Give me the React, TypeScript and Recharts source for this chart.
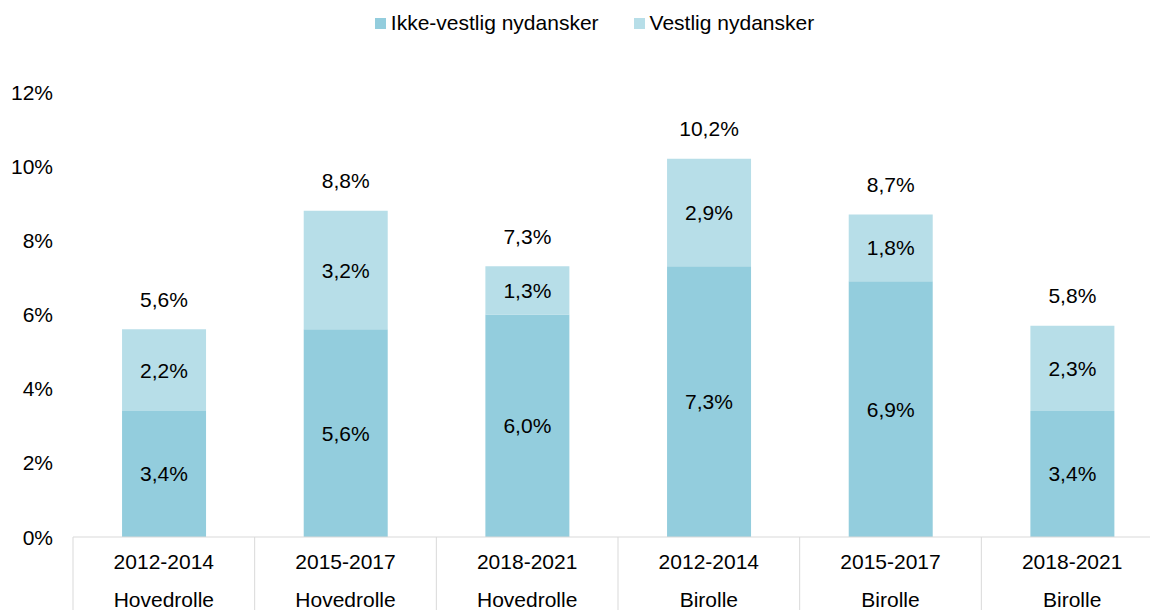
import { Bar, BarChart, LabelList, Legend, XAxis, YAxis } from "recharts";

const periods = ["2012-2014", "2015-2017", "2018-2021", "2012-2014", "2015-2017", "2018-2021"];
const roles = ["Hovedrolle", "Hovedrolle", "Hovedrolle", "Birolle", "Birolle", "Birolle"];
const ikkeVestlig = [3.4, 5.6, 6.0, 7.3, 6.9, 3.4];
const vestlig = [2.2, 3.2, 1.3, 2.9, 1.8, 2.3];
const totals = [5.6, 8.8, 7.3, 10.2, 8.7, 5.8];
const yTicks = [0, 2, 4, 6, 8, 10, 12];

const series = [
  { key: "ikke", name: "Ikke-vestlig nydansker", color: "#93cddd" },
  { key: "vestlig", name: "Vestlig nydansker", color: "#b7dee8" },
];

const data = periods.map((p, i) => ({
  name: `${p} ${roles[i]}`,
  period: p,
  role: roles[i],
  ikke: ikkeVestlig[i],
  vestlig: vestlig[i],
  total: totals[i],
}));

const FONT = "'Liberation Sans', Arial, sans-serif";
const fmt = (v: number) => v.toFixed(1).replace(".", ",") + "%";

function SegmentLabel(props: any) {
  const { x, y, width, height, value } = props;
  return (
    <text x={x + width / 2} y={y + height / 2 + 7.5} textAnchor="middle" fontSize={21} fontFamily={FONT} fill="#000">
      {fmt(value)}
    </text>
  );
}

function TotalLabel(props: any) {
  const { x, y, width, value } = props;
  return (
    <text x={x + width / 2} y={y - 30 + 7.5} textAnchor="middle" fontSize={21} fontFamily={FONT} fill="#000">
      {fmt(value)}
    </text>
  );
}

function YTick(props: any) {
  const { y, payload } = props;
  return (
    <text x={53} y={y + 7.5} textAnchor="end" fontSize={21} fontFamily={FONT} fill="#000">
      {payload.value}%
    </text>
  );
}

function XTick(props: any) {
  const { x, y, payload, index, width } = props;
  const band = width / periods.length;
  const row = data[index] ?? data.find((d) => d.name === payload.value);
  return (
    <g>
      <line x1={x - band / 2} x2={x - band / 2} y1={y} y2={y + 80} stroke="#d9d9d9" />
      <text x={x} y={y + 24 + 7.5} textAnchor="middle" fontSize={21} fontFamily={FONT} fill="#000">
        {row.period}
      </text>
      <text x={x} y={y + 62 + 7.5} textAnchor="middle" fontSize={21} fontFamily={FONT} fill="#000">
        {row.role}
      </text>
    </g>
  );
}

function LegendContent() {
  return (
    <div
      style={{
        width: 1150,
        boxSizing: "border-box",
        paddingLeft: 39,
        display: "flex",
        justifyContent: "center",
        alignItems: "center",
        fontFamily: FONT,
        fontSize: 21,
        color: "#000",
      }}
    >
      {series.map((s, i) => (
        <div key={s.key} style={{ display: "flex", alignItems: "center", marginLeft: i ? 35 : 0 }}>
          <span style={{ width: 11, height: 11, background: s.color, marginRight: 5, display: "inline-block" }} />
          <span>{s.name}</span>
        </div>
      ))}
    </div>
  );
}

export default function App() {
  return (
    <div style={{ position: "fixed", left: 0, top: 0, width: 1150, height: 610, overflow: "hidden", background: "#fff" }}>
      <BarChart
        width={1163}
        height={610}
        data={data}
        margin={{ top: 92, right: 0, bottom: 0, left: 0 }}
        barCategoryGap="27%"
      >
        <Legend
          verticalAlign="middle"
          content={<LegendContent />}
          wrapperStyle={{ top: 11, left: 0, width: 1150 }}
        />
        <YAxis
          width={73}
          domain={[0, 12]}
          ticks={yTicks}
          axisLine={false}
          tickLine={false}
          tick={<YTick />}
        />
        <XAxis
          dataKey="name"
          height={73}
          axisLine={{ stroke: "#d9d9d9" }}
          tickLine={false}
          tickSize={0}
          tickMargin={0}
          interval={0}
          tick={<XTick />}
        />
        <Bar dataKey="ikke" name={series[0].name} stackId="a" fill={series[0].color} isAnimationActive={false}>
          <LabelList dataKey="ikke" content={<SegmentLabel />} />
        </Bar>
        <Bar dataKey="vestlig" name={series[1].name} stackId="a" fill={series[1].color} isAnimationActive={false}>
          <LabelList dataKey="vestlig" content={<SegmentLabel />} />
          <LabelList dataKey="total" content={<TotalLabel />} />
        </Bar>
      </BarChart>
    </div>
  );
}
